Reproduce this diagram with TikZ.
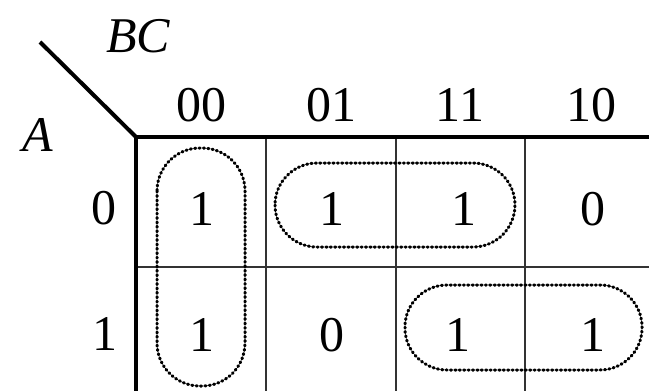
\documentclass[tikz,border=0pt]{standalone}
\usepackage{fontspec}
\setmainfont{Liberation Serif}
\begin{document}
\begin{tikzpicture}[x=1pt,y=-1pt,
  thickline/.style={line width=4pt},
  thinline/.style={line width=1.3pt, black!80},
  loopline/.style={line width=3pt, line cap=round, dash pattern=on 1.2pt off 3.2pt},
  lbl/.style={inner sep=0pt, font=\fontsize{50}{60}\selectfont},
  ilbl/.style={inner sep=0pt, font=\fontsize{50}{60}\selectfont\itshape}]
\useasboundingbox (0,0) rectangle (649,391);
% grid coordinates
\coordinate (corner) at (136,137);
\coordinate (diag) at (40,42);
\coordinate (topend) at (660,137);
\coordinate (leftend) at (136,400);
% thin grid
\draw[thinline] (266,137) -- (266,400);
\draw[thinline] (396,137) -- (396,400);
\draw[thinline] (525,137) -- (525,400);
\draw[thinline] (136,267) -- (660,267);
% thick lines
\draw[thickline] (diag) -- (corner);
\draw[thickline] (corner) -- (topend);
\draw[thickline] (corner) -- (leftend);
% labels
\node[ilbl] (BC) at (138,36) {BC};
\node[ilbl] (A) at (38,135) {A};
\node[lbl] (c00) at (201,105) {00};
\node[lbl] (c01) at (331,105) {01};
\node[lbl] (c11) at (460,105) {11};
\node[lbl] (c10) at (591,105) {10};
\node[lbl] (r0) at (104,208) {0};
\node[lbl] (r1) at (105,334) {1};
% cells
\node[lbl] (m00) at (202,209) {1};
\node[lbl] (m01) at (332,209) {1};
\node[lbl] (m11) at (464,209) {1};
\node[lbl] (m10) at (593,209) {0};
\node[lbl] (n00) at (202,335) {1};
\node[lbl] (n01) at (332,335) {0};
\node[lbl] (n11) at (458,335) {1};
\node[lbl] (n10) at (593,335) {1};
% loops
\draw[loopline, rounded corners=43pt] (157,148) rectangle (245,386);
\draw[loopline, rounded corners=42pt] (275,163) rectangle (515,247);
\draw[loopline, rounded corners=42pt] (405,285) rectangle (642,370);
\end{tikzpicture}
\end{document}
